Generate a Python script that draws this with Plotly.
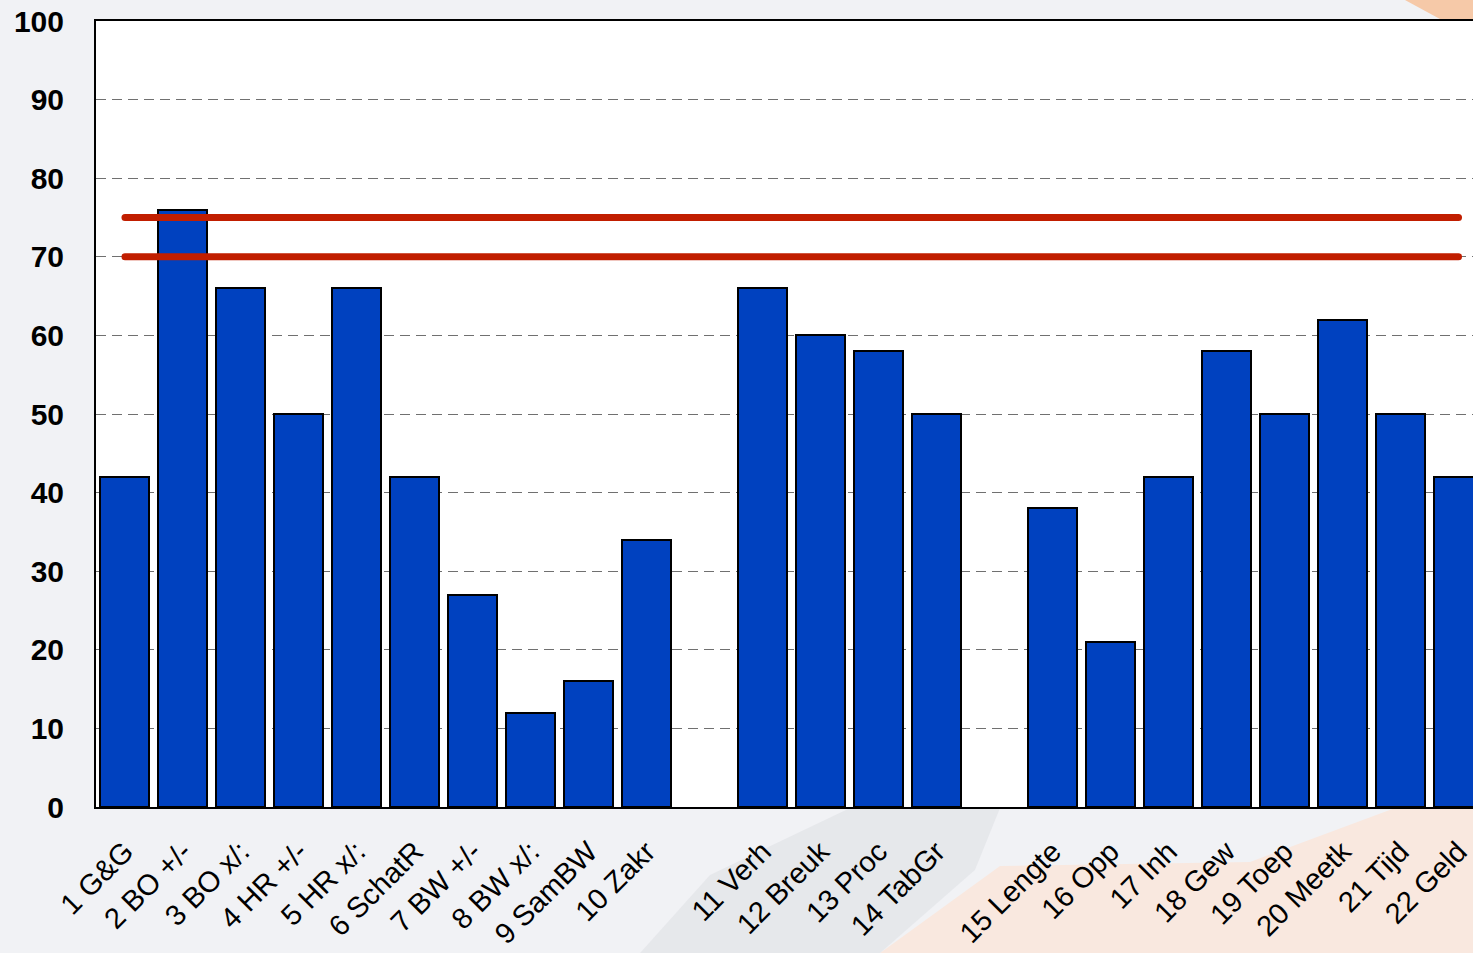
import plotly.graph_objects as go

# ---- data ----
categories = ["1 G&G", "2 BO +/-", "3 BO x/:", "4 HR +/-", "5 HR x/:", "6 SchatR",
              "7 BW +/-", "8 BW x/:", "9 SamBW", "10 Zakr", " ",
              "11 Verh", "12 Breuk", "13 Proc", "14 TabGr", "  ",
              "15 Lengte", "16 Opp", "17 Inh", "18 Gew", "19 Toep", "20 Meetk",
              "21 Tijd", "22 Geld"]
values = [42, 76, 66, 50, 66, 42, 27, 12, 16, 34, None,
          66, 60, 58, 50, None,
          38, 21, 42, 58, 50, 62, 50, 42]
upper_norm = 75
lower_norm = 70
y_ticks = [0, 10, 20, 30, 40, 50, 60, 70, 80, 90, 100]

W, H = 1473, 953
L, T, B = 96, 21, 146
PW, PH = W - L, H - T - B

def px(x, y):
    return (x - L) / PW, (H - B - y) / PH

def poly(points):
    pts = [px(x, y) for x, y in points]
    return "M " + " L ".join(f"{a:.4f},{b:.4f}" for a, b in pts) + " Z"

xs = list(range(len(categories)))

fig = go.Figure()
fig.add_trace(go.Bar(
    x=xs, y=values, width=0.845,
    marker=dict(color="#0041BF", line=dict(color="#000000", width=2)),
    showlegend=False, hoverinfo="x+y",
))
for lvl in (upper_norm, lower_norm):
    fig.add_trace(go.Scatter(
        x=[xs[0], xs[-1]], y=[lvl, lvl], mode="lines",
        line=dict(color="#C11E00", width=7), showlegend=False,
        hoverinfo="y",
    ))

shapes = [
    dict(type="path", xref="paper", yref="paper", layer="below",
         path=poly([(880, 953), (1000, 866), (1250, 862), (1395, 808), (1473, 808), (1473, 953)]),
         fillcolor="#F9E8DF", line=dict(width=0)),
    dict(type="path", xref="paper", yref="paper", layer="below",
         path=poly([(640, 953), (710, 875), (850, 808), (1000, 808), (975, 870), (880, 953)]),
         fillcolor="#DADBDF", opacity=0.45, line=dict(width=0)),
    dict(type="path", xref="paper", yref="paper", layer="below",
         path=poly([(1405, 0), (1473, 0), (1473, 19), (1440, 19)]),
         fillcolor="#F6C9A8", line=dict(width=0)),
]

fig.update_layout(
    width=W, height=H,
    margin=dict(l=L, r=0, t=T, b=B, pad=0),
    paper_bgcolor="#F1F2F5",
    plot_bgcolor="#FFFFFF",
    bargap=0,
    font=dict(family="Liberation Sans, Arial, sans-serif", color="#000000"),
    shapes=shapes,
    xaxis=dict(
        range=[-0.5, 23.25],
        tickmode="array", tickvals=xs, ticktext=categories,
        tickangle=-45, tickfont=dict(size=29),
        showgrid=False, zeroline=False,
        showline=True, linecolor="#000000", linewidth=2, mirror=True,
        ticks="", ticklabelstandoff=14, ticklabeloverflow="allow",
    ),
    yaxis=dict(
        range=[0, 100], tickmode="array", tickvals=y_ticks,
        tickfont=dict(size=30, family="Liberation Sans, Arial, sans-serif", weight="bold"),
        showgrid=True, gridcolor="#707070", griddash="10px,6px", gridwidth=1.2,
        zeroline=False,
        showline=True, linecolor="#000000", linewidth=2, mirror=False,
        ticks="", ticklabelstandoff=24,
    ),
)

post = """
document.body.style.margin='0';
document.body.style.overflow='hidden';
document.querySelectorAll('.scatterlayer path.js-line').forEach(function(p){p.style.strokeLinecap='round';});
"""
fig.write_html("out.html", post_script=post, config={"displayModeBar": False})
